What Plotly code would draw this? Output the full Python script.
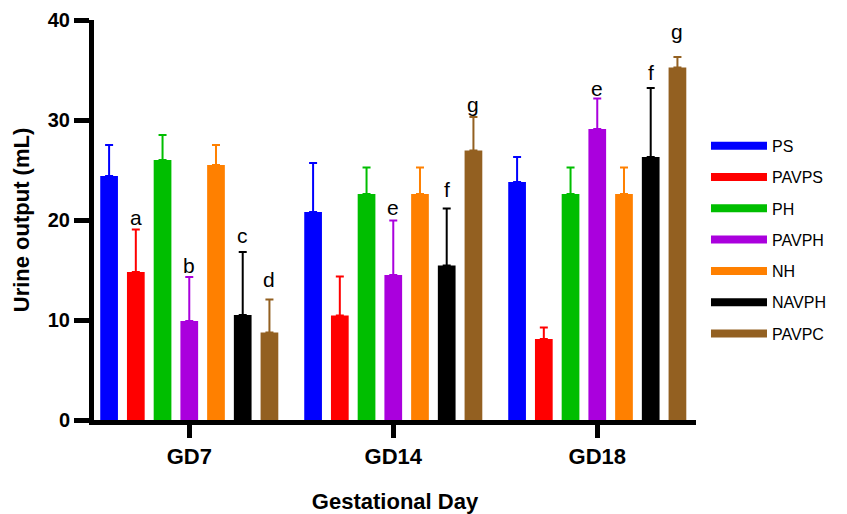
import plotly.graph_objects as go

# ---- data ----
groups = ["GD7", "GD14", "GD18"]
series = ["PS", "PAVPS", "PH", "PAVPH", "NH", "NAVPH", "PAVPC"]
colors = ["#0000FF", "#FF0000", "#00BE00", "#AA00DD", "#FF8000", "#000000", "#936021"]

ps_mean = [24.4, 20.8, 23.8]
ps_sd = [3.1, 4.9, 2.5]
pavps_mean = [14.8, 10.45, 8.1]
pavps_sd = [4.25, 3.9, 1.15]
ph_mean = [26.0, 22.6, 22.6]
ph_sd = [2.5, 2.65, 2.65]
pavph_mean = [9.9, 14.5, 29.1]
pavph_sd = [4.4, 5.45, 3.05]
nh_mean = [25.5, 22.6, 22.6]
nh_sd = [2.0, 2.65, 2.65]
navph_mean = [10.5, 15.45, 26.3]
navph_sd = [6.3, 5.7, 6.9]
pavpc_mean = [8.75, 26.95, 35.25]
pavpc_sd = [3.3, 3.35, 1.05]

means = [ps_mean, pavps_mean, ph_mean, pavph_mean, nh_mean, navph_mean, pavpc_mean]
sds = [ps_sd, pavps_sd, ph_sd, pavph_sd, nh_sd, navph_sd, pavpc_sd]

# significance letters
label_text = ["a", "b", "c", "d", "e", "f", "g", "e", "f", "g"]
label_group = ["GD7", "GD7", "GD7", "GD7", "GD14", "GD14", "GD14", "GD18", "GD18", "GD18"]
label_series = ["PAVPS", "PAVPH", "NAVPH", "PAVPC", "PAVPH", "NAVPH", "PAVPC", "PAVPH", "NAVPH", "PAVPC"]
label_y = [20.25, 15.46, 18.45, 14.1, 21.3, 23.1, 31.6, 33.2, 34.8, 38.85]

y_ticks = [0, 10, 20, 30, 40]

BARGAP = 0.083
BARGROUPGAP = 0.337

fig = go.Figure()
for name, col, m, s in zip(series, colors, means, sds):
    fig.add_trace(go.Bar(
        x=groups, y=m, name=name, marker=dict(color=col, line=dict(width=0)),
        error_y=dict(type="data", symmetric=False, array=s, arrayminus=[0] * len(s),
                     color=col, thickness=2, width=4),
        showlegend=False,
    ))

# legend entries (thick line swatches)
for name, col in zip(series, colors):
    fig.add_trace(go.Scatter(
        x=[None], y=[None], mode="lines", name=name, legendgroup=name,
        line=dict(color=col, width=8),
    ))

slot = (1 - BARGAP) / len(series)
for t, g, sname, yv in zip(label_text, label_group, label_series, label_y):
    gi = groups.index(g)
    si = series.index(sname)
    fig.add_annotation(
        x=gi + (si - (len(series) - 1) / 2) * slot, y=yv, xref="x", yref="y",
        text=t, showarrow=False, yanchor="middle", xanchor="center",
        font=dict(family="Liberation Sans, Arial", size=21, color="black"),
    )

fig.update_layout(
    width=839, height=506,
    margin=dict(l=86, r=151, t=12, b=94, autoexpand=False),
    paper_bgcolor="white", plot_bgcolor="white",
    barmode="group", bargap=BARGAP, bargroupgap=BARGROUPGAP,
    font=dict(family="Liberation Sans, Arial", color="black"),
    legend=dict(
        x=1.0166, xanchor="left", y=0.728, yanchor="top",
        font=dict(size=16, color="black"),
        itemwidth=56, tracegroupgap=7.5,
        bgcolor="rgba(0,0,0,0)",
    ),
    xaxis=dict(
        type="category", range=[-0.467, 2.484], automargin=False,
        showline=True, linecolor="black", linewidth=5,
        ticks="outside", ticklen=13, tickwidth=5, tickcolor="black",
        tickfont=dict(size=22, family="Liberation Sans, Arial", weight="bold"),
        title=dict(text="<b>Gestational Day</b>", font=dict(size=22), standoff=30),
        showgrid=False, zeroline=False,
    ),
    yaxis=dict(
        range=[0, 40], tickvals=y_ticks, automargin=False,
        showline=True, linecolor="black", linewidth=5,
        ticks="outside", ticklen=15, tickwidth=5, tickcolor="black",
        tickfont=dict(size=20, family="Liberation Sans, Arial", weight="bold"),
        title=dict(text="<b>Urine output (mL)</b>", font=dict(size=22), standoff=14),
        showgrid=False, zeroline=False,
    ),
)

fig.write_html("out.html")
